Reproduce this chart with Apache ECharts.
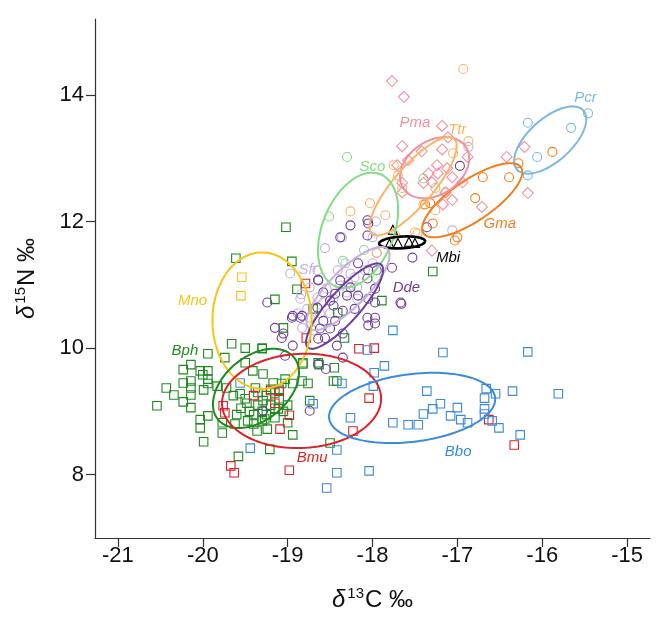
<!DOCTYPE html>
<html>
<head>
<meta charset="utf-8">
<script src="https://cdn.jsdelivr.net/npm/echarts@6/dist/echarts.min.js"></script>
<style>html,body{margin:0;padding:0;background:#fff}#c{width:670px;height:633px}</style>
</head>
<body>
<div id="c"></div>
<script>
// ---- tick labels ----
const xTicks = [-21, -20, -19, -18, -17, -16, -15];
const yTicks = [8, 10, 12, 14];

// ---- point data (δ13C, δ15N) ----
const Bph = [[-20.54,9.09],[-20.43,9.37],[-20.34,9.26],[-20.23,9.66],[-20.23,9.45],[-20.23,9.15],[-20.14,9.74],[-20.14,9.48],[-20.14,9.37],[-20.14,9.26],[-20.14,9.06],[-20.03,9.64],[-20.03,8.87],[-20.03,8.74],[-20.0,9.58],[-19.99,8.52],[-19.99,9.34],[-19.94,9.91],[-19.94,9.64],[-19.94,9.51],[-19.94,9.44],[-19.94,8.93],[-19.83,9.40],[-19.77,8.82],[-19.77,8.66],[-19.74,9.85],[-19.72,9.37],[-19.66,10.07],[-19.64,9.25],[-19.62,8.80],[-19.58,8.29],[-19.56,9.28],[-19.50,10.0],[-19.50,9.77],[-19.48,9.13],[-19.47,8.85],[-19.41,9.64],[-19.38,9.37],[-19.36,8.69],[-19.30,9.99],[-19.29,9.59],[-19.29,9.17],[-19.27,8.88],[-19.24,8.72],[-19.21,8.40],[-19.17,9.45],[-19.15,9.29],[-19.11,9.04],[-19.07,9.44],[-19.03,9.51],[-19.0,8.82],[-18.94,8.63],[-18.94,9.44],[-18.83,9.48],[-18.82,9.77],[-18.76,9.44],[-18.74,9.17],[-18.64,9.77],[-18.50,8.50],[-18.46,9.48],[-19.05,10.32],[-19.55,9.05],[-19.45,9.0],[-19.4,8.95],[-19.35,9.1],[-19.3,9.0],[-19.25,8.95],[-19.2,9.1],[-19.15,8.9],[-19.1,9.2],[-19.05,9.0],[-19.5,9.2],[-19.35,9.3],[-19.2,9.35],[-19.1,9.35],[-19.3,8.85],[-19.4,8.8],[-19.0,9.1],[-19.6,8.95],[-19.25,9.25],[-19.15,9.05],[-19.61,11.42],[-19.02,11.91],[-18.95,11.37],[-18.89,10.93],[-19.15,10.77],[-18.70,10.62],[-17.29,11.21],[-17.89,10.75],[-18.41,10.56],[-18.33,10.16],[-19.30,10.0],[-18.82,9.75],[-18.63,9.74],[-18.45,9.69],[-18.42,9.48]];
const Bmu = [[-18.79,11.02],[-18.78,10.16],[-19.76,9.09],[-19.74,8.98],[-19.67,8.14],[-19.63,8.03],[-19.40,9.25],[-19.09,8.72],[-18.98,8.94],[-18.98,8.07],[-19.10,9.32],[-19.2,9.33],[-19.15,9.13],[-18.16,9.99],[-17.98,10.0],[-18.04,9.21],[-18.23,8.69],[-16.63,8.87],[-16.33,8.47]];
const Bbo = [[-17.76,10.28],[-18.06,9.97],[-17.17,9.93],[-16.17,9.94],[-17.86,9.72],[-17.98,9.61],[-17.99,9.40],[-18.36,9.44],[-17.36,9.32],[-16.66,9.36],[-16.55,9.28],[-16.35,9.32],[-15.81,9.28],[-16.68,9.21],[-17.20,9.12],[-17.29,9.04],[-17.0,9.06],[-17.40,8.96],[-17.08,8.93],[-16.68,9.04],[-16.68,8.96],[-16.96,8.87],[-16.88,8.82],[-16.59,8.85],[-16.51,8.74],[-16.26,8.63],[-17.76,8.82],[-17.58,8.79],[-17.46,8.79],[-18.26,8.90],[-18.42,8.39],[-18.42,8.03],[-18.04,8.06],[-18.54,7.79],[-19.44,8.42],[-18.70,9.12],[-19.56,9.45]];
const Mno = [[-19.54,11.12],[-19.55,10.83]];
const Dde = [[-18.06,11.78],[-18.17,11.34],[-18.05,11.23],[-17.95,11.23],[-17.77,11.27],[-17.53,11.43],[-18.64,11.07],[-18.38,11.07],[-18.26,10.96],[-18.06,11.10],[-17.97,10.94],[-18.58,10.88],[-18.50,10.75],[-18.44,10.86],[-18.30,10.83],[-18.17,10.83],[-18.05,10.78],[-17.97,10.72],[-17.67,10.72],[-19.24,10.72],[-18.46,10.67],[-18.35,10.59],[-18.21,10.62],[-18.65,10.64],[-18.95,10.48],[-18.85,10.48],[-18.58,10.43],[-18.44,10.43],[-18.06,10.48],[-17.97,10.48],[-19.15,10.32],[-18.62,10.31],[-18.50,10.31],[-18.05,10.36],[-17.97,10.39],[-19.05,10.23],[-19.07,10.16],[-18.64,10.15],[-18.56,10.16],[-18.35,10.23],[-18.94,10.04],[-18.42,10.04],[-19.03,9.88],[-18.35,9.85],[-18.05,11.97],[-18.38,11.75],[-18.26,11.94],[-16.97,12.88],[-18.06,12.02],[-17.36,11.91],[-17.66,10.70],[-18.94,10.51],[-18.83,10.51],[-18.64,11.08],[-18.64,9.75],[-18.55,9.67],[-18.74,9.01],[-19.29,9.01]];
const Sfr = [[-18.36,11.75],[-18.56,11.58],[-18.0,11.75],[-18.32,11.34],[-18.74,10.96],[-18.85,10.78],[-18.88,10.55],[-18.77,10.62],[-18.65,10.80],[-18.54,10.94],[-18.38,10.99],[-18.29,11.04],[-18.21,11.12],[-18.09,11.23],[-18.0,11.34],[-17.95,11.50],[-18.58,10.72],[-18.46,10.78],[-18.30,10.88],[-18.18,10.96],[-18.74,10.48],[-18.62,10.55],[-18.50,10.55],[-18.83,10.32],[-18.70,10.28],[-18.41,11.23],[-18.26,11.18],[-18.65,11.23],[-18.97,11.18],[-18.18,10.78],[-17.06,11.86],[-16.87,13.18],[-17.96,12.0],[-18.84,10.85]];
const Sco = [[-18.51,12.08],[-18.30,13.02],[-17.40,12.68],[-18.35,11.38],[-18.10,11.55],[-17.95,11.10]];
const Ttr = [[-16.93,14.41],[-16.87,13.27],[-18.26,12.16],[-18.03,12.29],[-17.85,12.10],[-17.50,11.83],[-17.40,12.27],[-17.95,11.51],[-17.75,12.89],[-17.05,13.08],[-17.70,12.73],[-17.65,12.53],[-17.26,12.53],[-17.14,12.46],[-17.26,12.18],[-17.73,11.78],[-17.47,11.81]];
const Gma = [[-15.88,13.10],[-16.70,12.70],[-16.39,12.70],[-16.79,12.37],[-17.29,11.97],[-17.03,11.70],[-17.0,11.75],[-17.38,12.27],[-16.28,12.92],[-17.32,12.29]];
const Pcr = [[-15.46,13.71],[-15.66,13.48],[-16.17,13.56],[-16.06,13.02],[-16.17,12.73]];
const Pma = [[-17.77,14.22],[-17.63,13.97],[-17.18,13.51],[-17.11,13.33],[-17.65,13.19],[-17.42,13.11],[-17.18,13.14],[-16.88,13.02],[-17.58,12.97],[-17.71,12.89],[-17.24,12.89],[-17.12,12.84],[-17.34,12.76],[-17.23,12.76],[-17.06,12.70],[-17.65,12.61],[-17.40,12.61],[-17.30,12.62],[-16.94,12.62],[-17.65,12.46],[-17.14,12.46],[-17.06,12.34],[-17.17,12.27],[-16.71,12.23],[-17.30,11.54],[-16.42,13.02],[-16.21,13.18],[-16.17,12.45]];
const Mbi = [[-17.76,11.87],[-17.80,11.65],[-17.70,11.66],[-17.57,11.68],[-17.50,11.66]];

// ---- standard ellipses: centre, half-ranges, correlation ----
const ellNames = ['Pcr','Gma','Pma','Ttr','Sco','Mbi','Sfr','Dde','Mno','Bph','Bmu','Bbo'];
const ellCx = [-15.906,-16.825,-17.268,-17.521,-18.170,-17.651,-18.288,-18.329,-19.302,-19.373,-18.836,-17.533];
const ellCy = [13.287,12.336,12.851,12.558,11.861,11.670,10.941,10.664,10.434,9.364,9.166,9.055];
const ellSx = [0.425,0.59,0.407,0.513,0.472,0.271,0.489,0.454,0.584,0.507,0.9375,0.979];
const ellSy = [0.531,0.586,0.483,0.777,0.911,0.095,0.658,0.674,1.078,0.626,0.745,0.555];
const ellR  = [0.62,0.76,0.3,0.82,0.35,0.2,0.8,0.85,0.0,0.4,0.05,0.25];
// ---- group label anchors ----
const labX = [-15.49,-16.50,-17.50,-17.0,-18.0,-17.11,-18.76,-17.60,-20.12,-20.21,-18.71,-16.99];
const labY = [13.95,11.97,13.56,13.45,12.86,11.42,11.23,10.96,10.75,9.96,8.26,8.36];

// ---- styles ----
const colors = {Pcr:'#7db7e3',Gma:'#f47d1a',Pma:'#f2909f',Ttr:'#fbb466',Sco:'#84dd84',Mbi:'#000000',Sfr:'#c5b0de',Dde:'#6a3d9a',Mno:'#f5c518',Bph:'#1f8a1f',Bmu:'#dc2228',Bbo:'#3a8bdc'};
const groups = [
  ['Bph', Bph, 'rect', 8.5],
  ['Bmu', Bmu, 'rect', 8.5],
  ['Bbo', Bbo, 'rect', 8.5],
  ['Mno', Mno, 'rect', 8.5],
  ['Sfr', Sfr, 'circle', 9],
  ['Dde', Dde, 'circle', 9],
  ['Sco', Sco, 'circle', 9],
  ['Ttr', Ttr, 'circle', 9],
  ['Gma', Gma, 'circle', 9],
  ['Pma', Pma, 'diamond', 11],
  ['Pcr', Pcr, 'circle', 9],
  ['Mbi', Mbi, 'triangle', 9]
];

const FONT = "'Liberation Sans', Arial, sans-serif";
const series = groups.map(g => ({
  type: 'scatter', name: g[0], data: g[1], symbol: g[2], symbolSize: g[3], silent: true,
  itemStyle: {color: 'rgba(0,0,0,0)', borderColor: colors[g[0]], borderWidth: 1.1, opacity: 1}
}));

series.push({
  type: 'custom', silent: true, z: 5,
  data: ellNames.map((n, i) => [ellCx[i], ellCy[i]]),
  renderItem: function (params, api) {
    const i = params.dataIndex;
    const pts = [];
    const r = ellR[i], q = Math.sqrt(1 - r * r);
    for (let k = 0; k <= 120; k++) {
      const t = k / 120 * Math.PI * 2;
      const x = ellCx[i] + ellSx[i] * Math.cos(t);
      const y = ellCy[i] + ellSy[i] * (r * Math.cos(t) + q * Math.sin(t));
      pts.push(api.coord([x, y]));
    }
    const n = ellNames[i];
    return {type: 'polyline', shape: {points: pts},
      style: {fill: null, stroke: colors[n], lineWidth: n === 'Mbi' ? 2.6 : 2}};
  }
});

series.push({
  type: 'custom', silent: true, z: 6,
  data: ellNames.map((n, i) => [labX[i], labY[i]]),
  renderItem: function (params, api) {
    const i = params.dataIndex;
    const p = api.coord([labX[i], labY[i]]);
    const n = ellNames[i];
    return {type: 'text', x: p[0], y: p[1],
      style: {text: n, fill: colors[n], font: 'italic 15px ' + FONT, align: 'center', verticalAlign: 'middle'}};
  }
});

const nameRich = {
  d: {fontSize: 24, fontStyle: 'italic', fontFamily: FONT, color: '#111', verticalAlign: 'bottom', lineHeight: 28},
  s: {fontSize: 15, fontFamily: FONT, color: '#111', verticalAlign: 'bottom', lineHeight: 16, padding: [0, 1, 11, 2]},
  n: {fontSize: 24, fontFamily: FONT, color: '#111', verticalAlign: 'bottom', lineHeight: 28}
};

const chart = echarts.init(document.getElementById('c'), null, {renderer: 'canvas'});
chart.setOption({
  animation: false,
  backgroundColor: '#fff',
  grid: {left: 95, right: 20, top: 19, bottom: 95},
  xAxis: {
    type: 'value', min: -21.27, max: -14.73,
    splitLine: {show: false},
    axisLine: {show: true, onZero: false, lineStyle: {color: '#333', width: 1.2}},
    axisTick: {show: true, length: 9, customValues: xTicks, lineStyle: {color: '#333', width: 1.2}},
    axisLabel: {customValues: xTicks, color: '#111', fontSize: 22, fontFamily: FONT, margin: 7},
    name: '{d|δ}{s|13}{n|C ‰}', nameLocation: 'middle', nameGap: 46,
    nameTextStyle: {color: '#111', fontFamily: FONT, rich: nameRich}
  },
  yAxis: {
    type: 'value', min: 7, max: 15.2,
    splitLine: {show: false},
    axisLine: {show: true, onZero: false, lineStyle: {color: '#333', width: 1.2}},
    axisTick: {show: true, length: 9, customValues: yTicks, lineStyle: {color: '#333', width: 1.2}},
    axisLabel: {customValues: yTicks, color: '#111', fontSize: 22, fontFamily: FONT, margin: 11},
    name: '{d|δ}{s|15}{n|N ‰}', nameLocation: 'middle', nameGap: 56, nameRotate: 90,
    nameTextStyle: {color: '#111', fontFamily: FONT, rich: nameRich}
  },
  series: series
});
</script>
</body>
</html>
